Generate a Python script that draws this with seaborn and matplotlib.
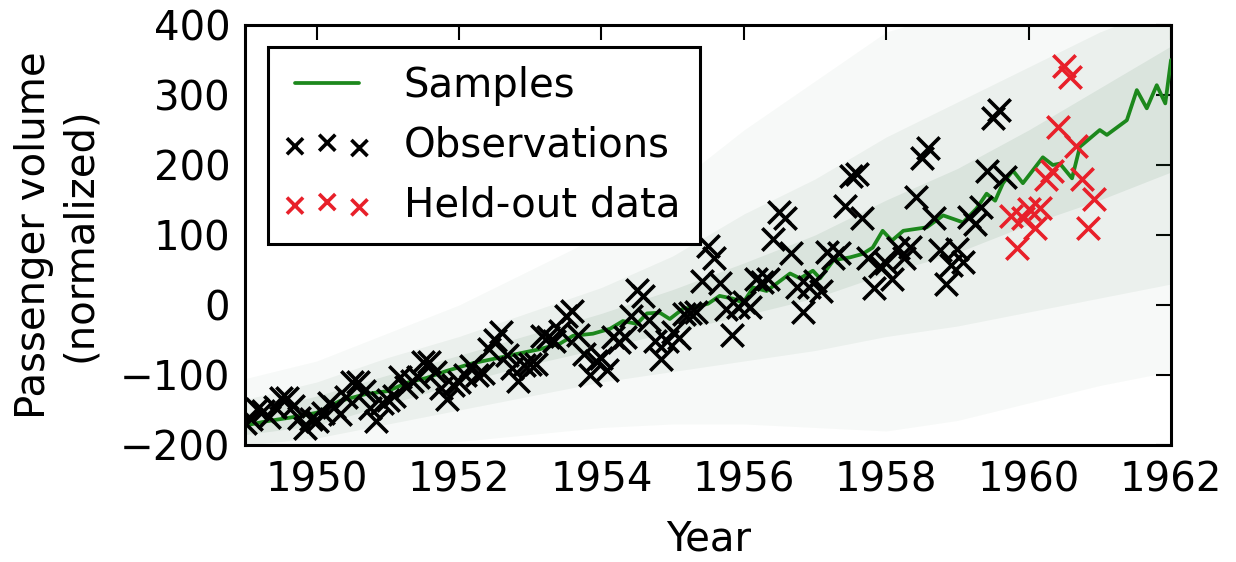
import numpy as np
import pandas as pd
import matplotlib
matplotlib.use("Agg")
import matplotlib.pyplot as plt
from matplotlib.collections import PathCollection
from matplotlib.lines import Line2D
from matplotlib.legend_handler import HandlerPathCollection, HandlerLine2D
import seaborn as sns

# ---------------- data ----------------
start_year = 1949
# monthly observations Jan 1949 .. Sep 1959 (normalized passenger volume)
obs_values = [
    -168.3, -162.3, -148.3, -151.3, -159.3, -145.3, -132.3, -132.3, -144.3, -161.3, -176.3, -162.3,
    -165.3, -154.3, -139.3, -145.3, -155.3, -131.3, -110.3, -110.3, -122.3, -147.3, -166.3, -140.3,
    -135.3, -130.3, -102.3, -117.3, -108.3, -102.3, -81.3, -81.3, -96.3, -118.3, -134.3, -114.3,
    -109.3, -100.3, -87.3, -99.3, -97.3, -62.3, -50.3, -38.3, -71.3, -89.3, -108.3, -86.3,
    -84.3, -84.3, -44.3, -45.3, -51.3, -37.3, -16.3, -8.3, -43.3, -69.3, -100.3, -79.3,
    -76.3, -92.3, -45.3, -53.3, -46.3, -16.3, 21.7, 12.7, -21.3, -51.3, -77.3, -51.3,
    -38.3, -47.3, -13.3, -11.3, -10.3, 34.7, 83.7, 66.7, 31.7, -6.3, -43.3, -2.3,
    3.7, -3.3, 36.7, 32.7, 37.7, 93.7, 132.7, 124.7, 74.7, 25.7, -9.3, 25.7,
    34.7, 20.7, 75.7, 67.7, 74.7, 141.7, 184.7, 186.7, 123.7, 66.7, 24.7, 55.7,
    59.7, 37.7, 81.7, 67.7, 82.7, 154.7, 210.7, 224.7, 123.7, 78.7, 29.7, 56.7,
    79.7, 61.7, 125.7, 115.7, 139.7, 191.7, 267.7, 278.7, 182.7,
]
# held-out months Oct 1959 .. Dec 1960
held_values = [
    126.7, 81.7, 124.7,
    136.7, 110.7, 138.7, 180.7, 191.7, 254.7, 341.7, 325.7, 227.7, 180.7, 109.7, 151.7,
]

# green sample line
sample_years = [1949.0, 1949.3, 1949.62, 1950.0, 1950.33, 1950.7, 1951.0, 1951.27, 1951.55,
                1951.83, 1952.2, 1952.58, 1952.81, 1953.14, 1953.42, 1953.6, 1953.88, 1954.12,
                1954.3, 1954.5, 1954.64, 1954.82, 1954.96, 1955.15, 1955.29, 1955.5, 1955.66,
                1955.85, 1955.99, 1956.13, 1956.32, 1956.65, 1956.79, 1956.97, 1957.07, 1957.26,
                1957.49, 1957.67, 1957.81, 1957.95, 1958.08, 1958.24, 1958.57, 1958.8, 1959.08,
                1959.27, 1959.41, 1959.53, 1959.64, 1959.78, 1959.92, 1960.2, 1960.34, 1960.44,
                1960.61, 1960.72, 1961.0, 1961.1, 1961.38, 1961.52, 1961.66, 1961.8, 1961.92, 1962.0]
sample_values = [-172, -166, -161, -154, -137, -127, -123, -111, -104,
                 -94, -83, -75, -70, -63, -55, -44, -41, -34,
                 -23, -27, -12, -11, -20, -5, -4, 2, 13,
                 9, 3, 25, 20, 45, 38, 49, 38, 64,
                 68, 73, 82, 106, 92, 106, 111, 128, 118,
                 138, 159, 149, 174, 192, 174, 211, 200, 202,
                 181, 226, 250, 243, 264, 307, 281, 314, 288, 350]

# spread of the sample cloud
band_years = [1949, 1950, 1951, 1952, 1953, 1954, 1955, 1956, 1957, 1958, 1959, 1960, 1961, 1962]
core_lo = [-185, -172, -142, -112, -85, -62, -38, -15, 10, 45, 75, 115, 150, 190]
core_hi = [-155, -130, -100, -72, -42, -12, 22, 60, 100, 150, 195, 250, 310, 370]
inner_lo = [-200, -190, -170, -150, -130, -110, -95, -80, -65, -45, -30, -10, 10, 30]
inner_hi = [-135, -110, -75, -45, -10, 25, 70, 130, 180, 240, 290, 340, 390, 430]
outer_lo = [-210, -210, -205, -195, -185, -175, -170, -170, -175, -180, -165, -140, -115, -95]
outer_hi = [-105, -80, -40, 0, 50, 100, 170, 250, 320, 390, 420, 440, 450, 460]

x_ticks = [1950, 1952, 1954, 1956, 1958, 1960, 1962]
y_ticks = [-200, -100, 0, 100, 200, 300, 400]

# ---------------- styling ----------------
sns.set_style("white")
plt.rcParams["font.family"] = ["DejaVu Sans"]
plt.rcParams["axes.edgecolor"] = "black"
plt.rcParams["text.color"] = "black"
plt.rcParams["axes.labelcolor"] = "black"
plt.rcParams["xtick.color"] = "black"
plt.rcParams["ytick.color"] = "black"

obs_df = pd.DataFrame({"year": start_year + np.arange(len(obs_values)) / 12.0,
                       "value": obs_values})
held_df = pd.DataFrame({"year": start_year + (len(obs_values) + np.arange(len(held_values))) / 12.0,
                        "value": held_values})
line_df = pd.DataFrame({"year": sample_years, "value": sample_values})

fig = plt.figure(figsize=(12.36, 5.62), dpi=100)
ax = fig.add_axes([0.1986, 0.2082, 0.7488, 0.7473])

shade = "#2f6b3d"
ax.fill_between(band_years, outer_lo, outer_hi, color=shade, alpha=0.035, lw=0, zorder=1)
ax.fill_between(band_years, inner_lo, inner_hi, color=shade, alpha=0.06, lw=0, zorder=1)
ax.fill_between(band_years, core_lo, core_hi, color=shade, alpha=0.09, lw=0, zorder=1)

sns.lineplot(data=line_df, x="year", y="value", ax=ax, color="#1c881c", lw=2.7,
             sort=False, estimator=None, label="Samples", zorder=3)
sns.scatterplot(data=obs_df, x="year", y="value", ax=ax, marker="x", s=260,
                color="black", linewidth=2.6, label="Observations", zorder=4)
sns.scatterplot(data=held_df, x="year", y="value", ax=ax, marker="x", s=260,
                color="#e8202a", linewidth=2.6, label="Held-out data", zorder=4)

ax.set_xlim(1949, 1962)
ax.set_ylim(-200, 400)
ax.set_xticks(x_ticks)
ax.set_yticks(y_ticks)
ax.set_xticklabels([str(t) for t in x_ticks])
ax.set_yticklabels([f"{t}".replace("-", "\u2212") for t in y_ticks])
ax.tick_params(axis="both", which="major", direction="in", length=11, width=1.5,
               labelsize=29, pad=11, top=True, right=True, colors="black")
for sp in ax.spines.values():
    sp.set_linewidth(2.2)
    sp.set_color("black")

ax.set_xlabel("Year", fontsize=29, labelpad=14)
ax.set_ylabel("Passenger volume\n(normalized)", fontsize=29, labelpad=14, linespacing=1.2)

handles, labels = ax.get_legend_handles_labels()
leg = ax.legend(handles, labels, loc="upper left", fontsize=29, frameon=True, fancybox=False,
                framealpha=1, edgecolor="black", scatterpoints=3,
                scatteryoffsets=[0.375, 0.5, 0.3125], markerscale=0.72,
                handlelength=2.0, handletextpad=0.9, borderpad=0.48,
                labelspacing=0.48, borderaxespad=0.55,
                handler_map={PathCollection: HandlerPathCollection(marker_pad=0.2),
                             Line2D: HandlerLine2D(numpoints=2, marker_pad=0.2)})
leg.get_frame().set_linewidth(2.2)

fig.savefig("out.png", dpi=100)
